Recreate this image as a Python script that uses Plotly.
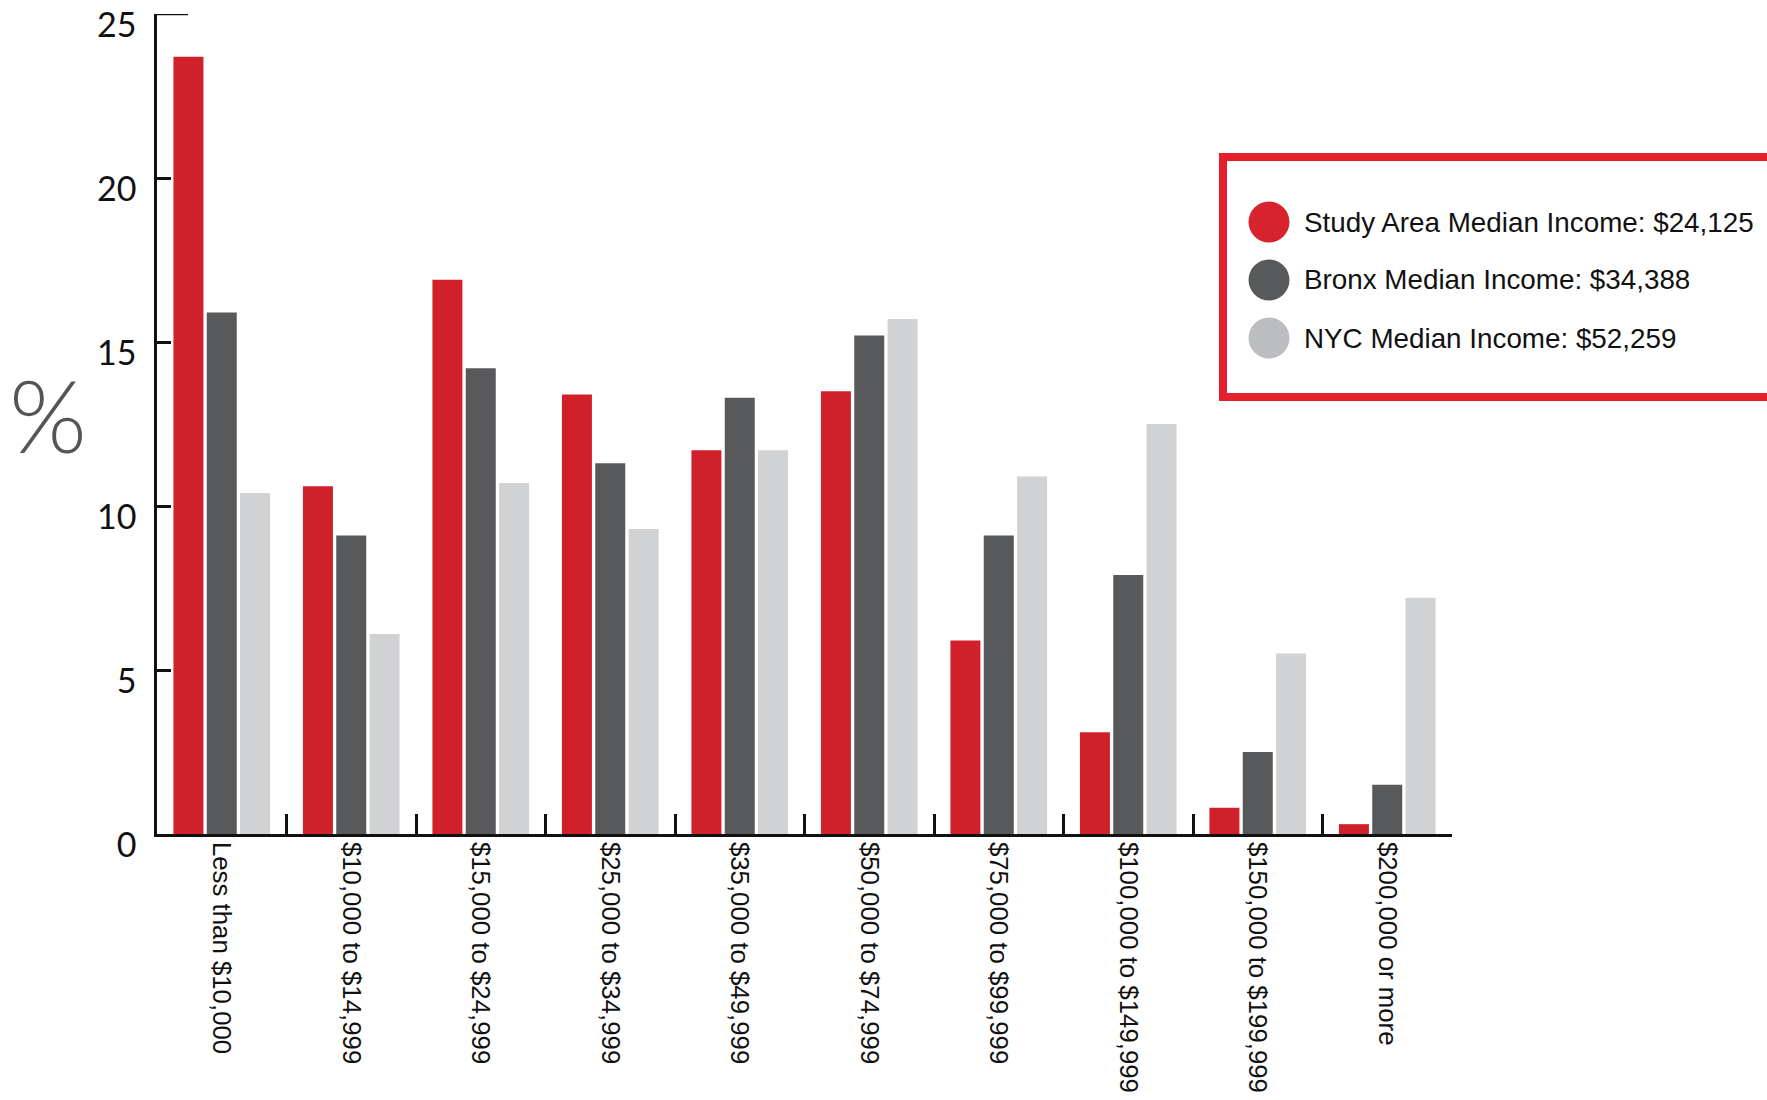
import plotly.graph_objects as go

# Household income distribution, share of households (%)
categories = [
    "Less than $10,000",
    "$10,000 to $14,999",
    "$15,000 to $24,999",
    "$25,000 to $34,999",
    "$35,000 to $49,999",
    "$50,000 to $74,999",
    "$75,000 to $99,999",
    "$100,000 to $149,999",
    "$150,000 to $199,999",
    "$200,000 or more",
]
study_area = [23.7, 10.6, 16.9, 13.4, 11.7, 13.5, 5.9, 3.1, 0.8, 0.3]
bronx = [15.9, 9.1, 14.2, 11.3, 13.3, 15.2, 9.1, 7.9, 2.5, 1.5]
nyc = [10.4, 6.1, 10.7, 9.3, 11.7, 15.7, 10.9, 12.5, 5.5, 7.2]

series_names = [
    "Study Area Median Income: $24,125",
    "Bronx Median Income: $34,388",
    "NYC Median Income: $52,259",
]
y_ticks = [0, 5, 10, 15, 20, 25]

bar_colors = ["#D0212B", "#58595B", "#D1D2D4"]
dot_colors = ["#D7232E", "#58595B", "#BCBDC0"]

W, H = 1767, 1100
L, R, T, B = 157, 315, 14, 266
PW, PH = W - L - R, H - T - B


def px_x(x):
    return (x - L) / PW


def px_y(y):
    return (H - B - y) / PH


fig = go.Figure()
for name, vals, col in zip(series_names, [study_area, bronx, nyc], bar_colors):
    fig.add_trace(go.Bar(
        x=categories, y=vals, name=name,
        marker=dict(color=col, line=dict(width=0)),
        showlegend=False,
    ))

shapes = []
# longer cap tick at the top of the value axis
shapes.append(dict(type="line", xref="paper", yref="y",
                   x0=0, x1=px_x(188), y0=25, y1=25,
                   line=dict(color="#111111", width=2.5)))
# framed legend box running off the right edge
shapes.append(dict(type="rect", xref="paper", yref="paper",
                   x0=px_x(1223), x1=px_x(1800), y0=px_y(157), y1=px_y(397),
                   line=dict(color="#E3202B", width=8), fillcolor="rgba(0,0,0,0)"))

annotations = []
legend_rows = [222, 280, 338]
for name, col, cy in zip(series_names, dot_colors, legend_rows):
    r = 20.5
    shapes.append(dict(type="circle", xref="paper", yref="paper",
                       x0=px_x(1269 - r), x1=px_x(1269 + r),
                       y0=px_y(cy + r), y1=px_y(cy - r),
                       fillcolor=col, line=dict(width=0)))
    annotations.append(dict(xref="paper", yref="paper",
                            x=px_x(1302), y=px_y(cy),
                            xanchor="left", yanchor="middle",
                            text=name, showarrow=False,
                            font=dict(family="Liberation Sans", size=27.8, color="#111111")))

annotations.append(dict(xref="paper", yref="paper",
                        x=px_x(48), y=px_y(414),
                        xanchor="center", yanchor="middle",
                        text="%", showarrow=False,
                        font=dict(family="Lato", size=100, color="#555555", weight=300)))

fig.update_layout(
    width=W, height=H,
    margin=dict(l=L, r=R, t=T, b=B, autoexpand=False),
    paper_bgcolor="white", plot_bgcolor="white",
    barmode="group", bargap=0.228, bargroupgap=0.1,
    shapes=shapes, annotations=annotations,
    xaxis=dict(
        type="category", range=[-0.5, 9.5],
        tickson="boundaries", ticks="inside", ticklen=20, tickwidth=2.5,
        tickcolor="#111111",
        showline=True, linecolor="#111111", linewidth=2.5,
        showgrid=False, zeroline=False,
        tickangle=90,
        tickfont=dict(family="Liberation Sans", size=25.8, color="#111111"),
    ),
    yaxis=dict(
        range=[0, 25], tickvals=y_ticks, ticktext=[str(v) for v in y_ticks],
        ticks="inside", ticklen=14, tickwidth=2.5, tickcolor="#111111",
        showline=True, linecolor="#111111", linewidth=2.5,
        showgrid=False, zeroline=False,
        ticklabelposition="outside bottom",
        ticklabelshift=-14, ticklabelstandoff=11,
        tickfont=dict(family="Lato", size=34, color="#111111"),
    ),
)

fig.write_html("out.html")
